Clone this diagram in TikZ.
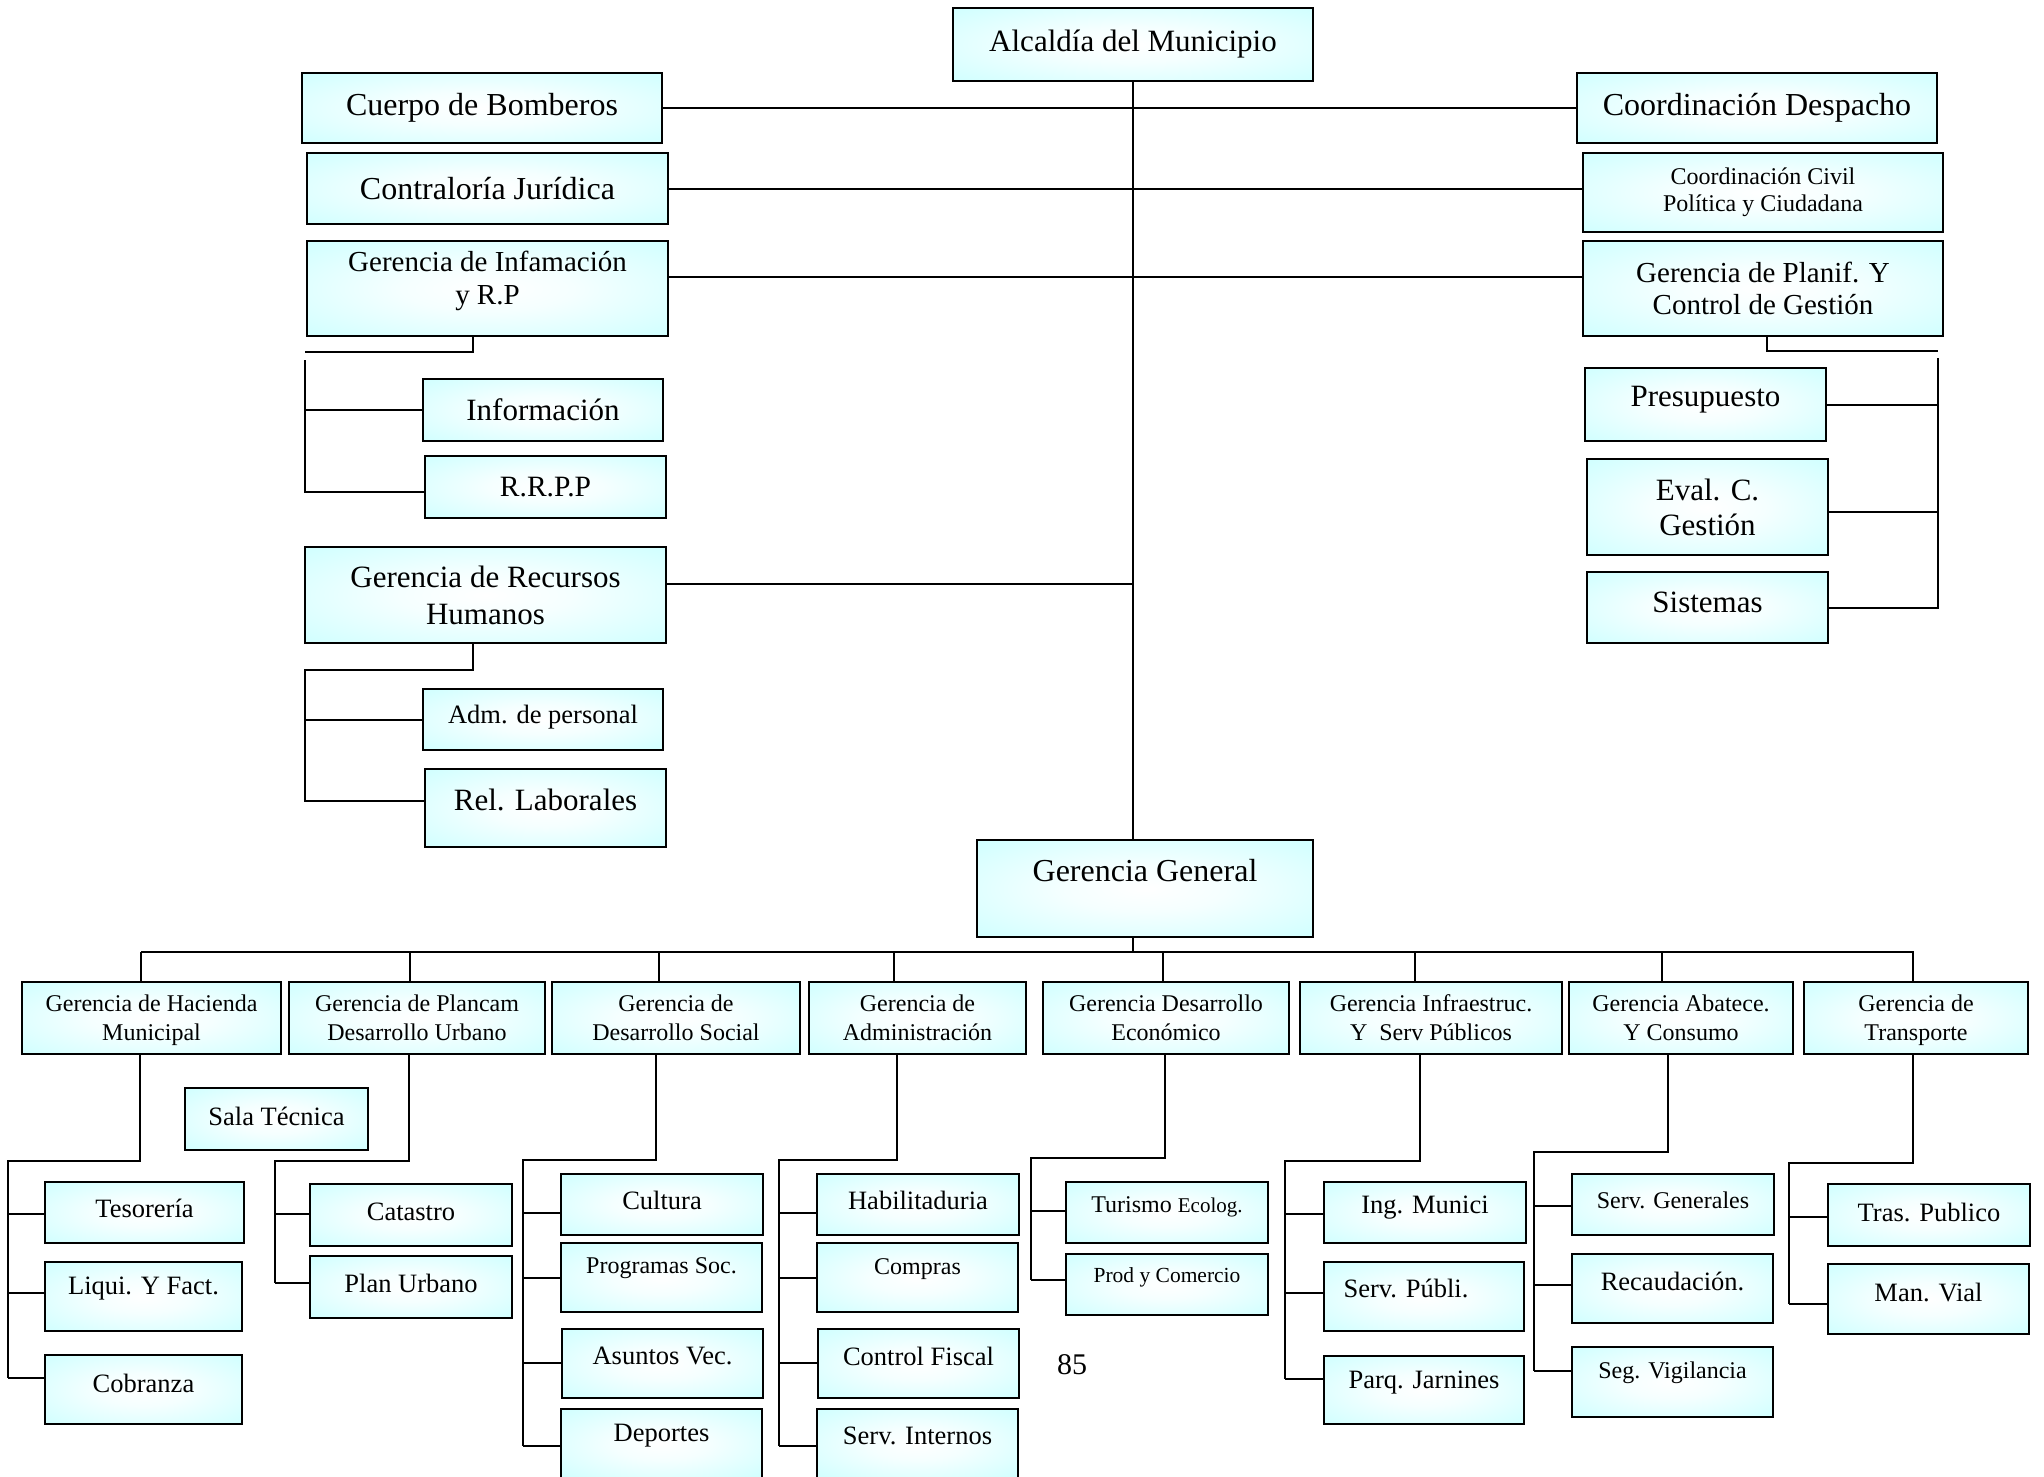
\documentclass[tikz,border=0pt]{standalone}
\usepackage{fontspec}
\setmainfont{Liberation Serif}
\usetikzlibrary{positioning, calc}
\definecolor{celeste}{RGB}{204,255,255}
\pgfdeclareradialshading{brillo}{\pgfpoint{0bp}{0bp}}{color(0bp)=(white); color(12bp)=(white!80!celeste); color(38bp)=(celeste); color(70bp)=(celeste)}

\begin{document}
\begin{tikzpicture}[x=1pt, y=-1pt,
    caja/.style={draw=black, line width=2pt, shading=brillo, shade,
        align=center, inner sep=0pt, font=\fontsize{31}{37}\selectfont},
    grande/.style={caja, font=\fontsize{32}{38}\selectfont},
    media/.style={caja, font=\fontsize{26.5}{30}\selectfont},
    chica/.style={caja, font=\fontsize{24}{27}\selectfont},
    gerencia/.style={chica, font=\fontsize{24}{29}\selectfont, minimum height=72, text depth=-5},
    arriba/.style={text depth=#1},
    linea/.style={line width=2pt}]
    \useasboundingbox (0,0) rectangle (2044,1476);

    % nivel superior
    \node[caja, minimum width=360, minimum height=73] (alcaldia) at (1133,44.5) {Alcaldía del Municipio};
    \node[grande, minimum width=360, minimum height=70] (bomberos) at (482,108) {Cuerpo de Bomberos};
    \node[grande, minimum width=361, minimum height=71] (contraloria) at (487.5,188.5) {Contraloría Jurídica};
    \node[caja, font=\fontsize{29}{33}\selectfont, minimum width=361, minimum height=95, arriba=21] (infamacion) at (487.5,288.5) {Gerencia de Infamación\\y R.P};
    \node[caja, minimum width=240, minimum height=62] (informacion) at (543,410) {Información};
    \node[caja, font=\fontsize{29.5}{35}\selectfont, minimum width=241, minimum height=62] (rrpp) at (545.5,487) {R.R.P.P};
    \node[caja, minimum width=361, minimum height=96] (rrhh) at (485.5,595) {Gerencia de Recursos\\Humanos};
    \node[media, minimum width=240, minimum height=61, arriba=11] (admpersonal) at (543,719.5) {Adm. de personal};
    \node[caja, minimum width=241, minimum height=78, arriba=16] (rellaborales) at (545.5,808) {Rel. Laborales};

    \node[grande, minimum width=360, minimum height=70] (despacho) at (1757,108) {Coordinación Despacho};
    \node[chica, minimum width=360, minimum height=79] (civil) at (1763,192.5) {Coordinación Civil\\Política y Ciudadana};
    \node[caja, font=\fontsize{29}{31.5}\selectfont, minimum width=360, minimum height=95] (planif) at (1763,288.5) {Gerencia de Planif. Y\\Control de Gestión};
    \node[caja, minimum width=241, minimum height=73, arriba=16] (presupuesto) at (1705.5,404.5) {Presupuesto};
    \node[caja, font=\fontsize{31}{35}\selectfont, minimum width=241, minimum height=96] (eval) at (1707.5,507) {Eval. C.\\Gestión};
    \node[caja, minimum width=241, minimum height=71, arriba=11] (sistemas) at (1707.5,607.5) {Sistemas};

    \node[grande, minimum width=336, minimum height=97, arriba=37] (general) at (1145,888.5) {Gerencia General};

    % gerencias
    \node[gerencia, minimum width=259] (hacienda) at (151.5,1018) {Gerencia de Hacienda\\Municipal};
    \node[gerencia, minimum width=256] (plancam) at (417,1018) {Gerencia de Plancam\\Desarrollo Urbano};
    \node[gerencia, minimum width=248] (social) at (676,1018) {Gerencia de\\Desarrollo Social};
    \node[gerencia, minimum width=217] (admin) at (917.5,1018) {Gerencia de\\Administración};
    \node[gerencia, minimum width=246] (deseco) at (1166,1018) {Gerencia Desarrollo\\Económico};
    \node[gerencia, minimum width=262] (infra) at (1431,1018) {Gerencia Infraestruc.\\Y~~Serv Públicos};
    \node[gerencia, minimum width=224] (abatece) at (1681,1018) {Gerencia Abatece.\\Y Consumo};
    \node[gerencia, minimum width=224] (transporte) at (1916,1018) {Gerencia de\\Transporte};

    % departamentos
    \node[media, minimum width=183, minimum height=62, arriba=6] (salatecnica) at (276.5,1119) {Sala Técnica};
    \node[media, minimum width=199, minimum height=61, arriba=9] (tesoreria) at (144.5,1212.5) {Tesorería};
    \node[media, minimum width=197, minimum height=69, arriba=21] (liqui) at (143.5,1296.5) {Liqui. Y Fact.};
    \node[media, minimum width=197, minimum height=69, arriba=13] (cobranza) at (143.5,1389.5) {Cobranza};
    \node[media, minimum width=202, minimum height=62, arriba=6] (catastro) at (411,1215) {Catastro};
    \node[media, minimum width=202, minimum height=62, arriba=8] (planurbano) at (411,1287) {Plan Urbano};
    \node[media, minimum width=202, minimum height=61, arriba=9] (cultura) at (662,1204.5) {Cultura};
    \node[chica, minimum width=201, minimum height=69, arriba=24] (programas) at (661.5,1277.5) {Programas Soc.};
    \node[media, minimum width=201, minimum height=69, arriba=15] (asuntos) at (662.5,1363.5) {Asuntos Vec.};
    \node[media, minimum width=201, minimum height=69, arriba=21] (deportes) at (661.5,1443.5) {Deportes};
    \node[media, minimum width=202, minimum height=61, arriba=9] (habilitaduria) at (918,1204.5) {Habilitaduria};
    \node[chica, minimum width=201, minimum height=69, arriba=22] (compras) at (917.5,1277.5) {Compras};
    \node[media, minimum width=201, minimum height=69, arriba=15] (fiscal) at (918.5,1363.5) {Control Fiscal};
    \node[media, minimum width=201, minimum height=69, arriba=15] (internos) at (917.5,1443.5) {Serv. Internos};
    \node[chica, minimum width=202, minimum height=61, arriba=16] (turismo) at (1167,1212.5) {Turismo {\fontsize{21}{24}\selectfont Ecolog.}};
    \node[chica, font=\fontsize{21.5}{25}\selectfont, minimum width=202, minimum height=61, arriba=18] (prod) at (1167,1284.5) {Prod y Comercio};
    \node[media, minimum width=202, minimum height=61, arriba=15] (ing) at (1425,1212.5) {Ing. Munici};
    \node[media, minimum width=200, minimum height=69, arriba=17] (servpub) at (1424,1296.5) {Serv. Públi.\hspace*{36pt}};
    \node[media, minimum width=200, minimum height=68, arriba=20] (parq) at (1424,1390) {Parq. Jarnines};
    \node[chica, minimum width=202, minimum height=61, arriba=9] (servgen) at (1673,1204.5) {Serv. Generales};
    \node[media, minimum width=201, minimum height=69, arriba=15] (recaud) at (1672.5,1288.5) {Recaudación.};
    \node[chica, minimum width=201, minimum height=70, arriba=23] (vigil) at (1672.5,1382) {Seg. Vigilancia};
    \node[media, minimum width=202, minimum height=62, arriba=6] (traspub) at (1929,1215) {Tras. Publico};
    \node[media, minimum width=201, minimum height=70, arriba=14] (manvial) at (1928.5,1299) {Man. Vial};

    \node[font=\fontsize{30}{36}\selectfont] (pagina) at (1072,1365) {85};

    % conexiones superiores
    \draw[linea] (alcaldia.south) -- (alcaldia.south |- general.north);
    \draw[linea] (bomberos.east) -- (despacho.west);
    \draw[linea] (contraloria.east) -- (contraloria.east -| civil.west);
    \coordinate (c3) at ([yshift=11.5pt]infamacion.east);
    \draw[linea] (c3) -- (c3 -| planif.west);
    \coordinate (c4) at ([yshift=11pt]rrhh.east);
    \draw[linea] (c4) -- (c4 -| alcaldia.south);

    \coordinate (i1) at (473,352);
    \coordinate (i3) at (305,360);
    \coordinate (i4) at (305,492);
    \draw[linea] (infamacion.south -| i1) -- (i1) -- (i1 -| i3);
    \draw[linea] (i3) -- (i4) -- (i4 -| rrpp.west);
    \draw[linea] (informacion.west -| i3) -- (informacion.west);

    \coordinate (r1) at (473,670);
    \coordinate (r3) at (305,801);
    \draw[linea] (rrhh.south -| r1) -- (r1) -- (r1 -| r3) -- (r3) -- (r3 -| rellaborales.west);
    \draw[linea] (admpersonal.west -| r3) -- (admpersonal.west);

    \coordinate (p1) at (1767,351);
    \coordinate (p3) at (1938,358);
    \coordinate (e1) at ([yshift=-5pt]eval.east);
    \draw[linea] (planif.south -| p1) -- (p1) -- (p1 -| p3);
    \draw[linea] (p3) |- (sistemas.east);
    \draw[linea] (presupuesto.east) -- (presupuesto.east -| p3);
    \draw[linea] (e1) -- (e1 -| p3);

    % barra de gerencias
    \coordinate (busL) at (141,952);
    \coordinate (busR) at (1914,952);
    \draw[linea] (alcaldia.south |- general.south) -- (alcaldia.south |- busL);
    \draw[linea] (busL) -- (busR);
    \foreach \g/\x in {hacienda/141, plancam/410, social/659, admin/894, deseco/1163, infra/1415, abatece/1662, transporte/1913}
        \draw[linea] (\x,952) -- (\x,952 |- \g.north);

    % ramas de departamentos
    \foreach \g/\xd/\yc/\xs/\yb in {hacienda/140/1161/8/1378, plancam/409/1161/275/1283, social/656/1160/523/1446, admin/897/1160/779/1446, deseco/1165/1158/1031/1280, infra/1420/1161/1285/1379, abatece/1668/1152/1534/1371, transporte/1913/1163/1789/1304}
        \draw[linea] (\g.south -| \xd,0) -- (\xd,\yc) -- (\xs,\yc) -- (\xs,\yb);
    \foreach \n/\xs/\y in {tesoreria/8/1214, liqui/8/1293, cobranza/8/1378, catastro/275/1214, planurbano/275/1283, cultura/523/1213, programas/523/1278, asuntos/523/1363, deportes/523/1446, habilitaduria/779/1213, compras/779/1278, fiscal/779/1363, internos/779/1446, turismo/1031/1211, prod/1031/1280, ing/1285/1214, servpub/1285/1293, parq/1285/1379, servgen/1534/1206, recaud/1534/1285, vigil/1534/1371, traspub/1789/1217, manvial/1789/1304}
        \draw[linea] (\xs,\y) -- (\xs,\y -| \n.west);
\end{tikzpicture}
\end{document}
